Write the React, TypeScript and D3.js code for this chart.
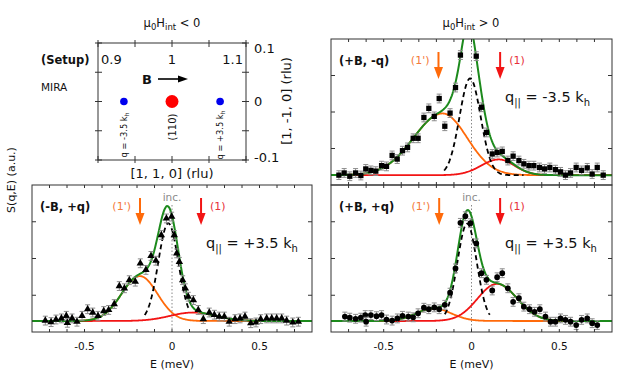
import React from 'react';
import * as d3 from 'd3';

const FONT = 'DejaVu Sans, Verdana, sans-serif';

// ---- measured spectra, E (meV) vs S(q,E) (a.u.) ----
const energyMinusBPlusQ = [-0.724, -0.691, -0.663, -0.632, -0.604, -0.598, -0.571, -0.543, -0.514, -0.482, -0.453, -0.423, -0.39, -0.362, -0.33, -0.301, -0.272, -0.244, -0.21, -0.181, -0.149, -0.12, -0.092, -0.061, -0.032, -0.002, 0.013, 0.027, 0.042, 0.061, 0.076, 0.093, 0.122, 0.15, 0.179, 0.213, 0.242, 0.27, 0.299, 0.327, 0.36, 0.389, 0.417, 0.45, 0.48, 0.507, 0.541, 0.57, 0.598, 0.627, 0.655, 0.69, 0.722];
const intensityMinusBPlusQ = [0.31, 0.27, 0.34, 0.37, 0.44, 0.25, 0.37, 0.28, 0.44, 0.62, 0.53, 0.44, 0.57, 0.6, 0.76, 1.25, 1.19, 1.41, 1.37, 1.87, 1.69, 2.07, 1.94, 2.64, 3.09, 3.14, 2.64, 2.14, 1.91, 1.41, 1.19, 0.96, 0.87, 0.6, 0.35, 0.53, 0.47, 0.42, 0.42, 0.28, 0.35, 0.37, 0.42, 0.24, 0.26, 0.35, 0.37, 0.37, 0.37, 0.37, 0.31, 0.26, 0.28];

const energyPlusBMinusQ = [-0.755, -0.725, -0.693, -0.66, -0.63, -0.602, -0.573, -0.545, -0.512, -0.484, -0.452, -0.423, -0.393, -0.364, -0.332, -0.304, -0.271, -0.243, -0.212, -0.184, -0.152, -0.122, -0.091, -0.063, 0.027, 0.057, 0.085, 0.118, 0.146, 0.175, 0.207, 0.237, 0.27, 0.298, 0.327, 0.355, 0.387, 0.416, 0.446, 0.478, 0.507, 0.535, 0.564, 0.596, 0.627, 0.659, 0.687, 0.716, 0.75];
const intensityPlusBMinusQ = [0.27, 0.33, 0.24, 0.33, 0.26, 0.44, 0.4, 0.38, 0.53, 0.51, 0.81, 0.71, 0.94, 1.03, 1.28, 1.28, 1.85, 2.1, 1.88, 2.37, 1.61, 1.97, 2.67, 3.56, 3.53, 2.13, 1.44, 0.85, 0.89, 0.92, 0.67, 0.79, 0.67, 0.58, 0.53, 0.53, 0.48, 0.44, 0.48, 0.42, 0.36, 0.27, 0.33, 0.48, 0.4, 0.47, 0.3, 0.48, 0.27];

const energyPlusBPlusQ = [-0.721, -0.693, -0.66, -0.63, -0.605, -0.6, -0.573, -0.541, -0.512, -0.484, -0.452, -0.422, -0.393, -0.36, -0.332, -0.304, -0.271, -0.243, -0.212, -0.184, -0.152, -0.122, -0.091, -0.063, -0.035, -0.006, 0.027, 0.057, 0.085, 0.118, 0.146, 0.175, 0.207, 0.237, 0.27, 0.298, 0.33, 0.359, 0.389, 0.421, 0.45, 0.478, 0.507, 0.535, 0.564, 0.596, 0.627, 0.659, 0.687, 0.716];
const intensityPlusBPlusQ = [0.42, 0.39, 0.36, 0.39, 0.46, 0.28, 0.46, 0.43, 0.46, 0.34, 0.31, 0.37, 0.44, 0.42, 0.4, 0.51, 0.66, 0.62, 0.67, 0.62, 0.74, 1.07, 1.73, 2.97, 3.15, 2.96, 2.41, 1.6, 1.42, 1.13, 1.49, 1.6, 1.19, 0.82, 0.92, 0.69, 0.62, 0.55, 0.62, 0.42, 0.28, 0.28, 0.37, 0.33, 0.28, 0.19, 0.33, 0.37, 0.24, 0.19];

// ---- fit parameters, order: (-B,+q), (+B,-q), (+B,+q) ----
const panelTags = ['(-B, +q)', '(+B, -q)', '(+B, +q)'];
const qValues = ['+3.5', '-3.5', '+3.5'];
const errorBars = [0.12, 0.12, 0.12];
const background = [0.3, 0.27, 0.3];
const incCenter = [-0.021, -0.008, -0.025];
const incAmp = [2.66, 2.65, 2.65];
const incWidth = [0.057, 0.06, 0.055];
const incRange = [[-0.16, 0.1], [-0.16, 0.3], [-0.155, 0.105]];
const narrowAmp = [0, 0.5, 0];
const narrowCenter = [0, -0.02, 0];
const narrowWidth = [0.03, 0.03, 0.03];
const mode1pCenter = [-0.183, -0.165, -0.215];
const mode1pAmp = [1.22, 1.69, 0.34];
const mode1pWidth = [[0.105, 0.1], [0.165, 0.14], [0.1, 0.1]];
const mode1Center = [0.12, 0.155, 0.145];
const mode1Amp = [0.23, 0.43, 1.01];
const mode1Width = [[0.13, 0.13], [0.1, 0.09], [0.11, 0.115]];
const arrow1p = [-0.183, -0.188, -0.184];
const arrow1 = [0.166, 0.163, 0.163];
const energyTicks = [-0.5, 0, 0.5];

// ---- setup sketch ----
const setupXTicks = [0.9, 1, 1.1];
const setupYTicks = [0.1, 0, -0.1];
const satellitePos = [0.935, 1.065];
const satelliteQ = ['-3.5', '+3.5'];

const GREEN = '#1c8a1c';
const ORANGE = '#ff6a0a';
const RED = '#f21414';

const peak = (e: number, c: number, a: number, w: number[]) => {
  const s = e < c ? w[0] : w[1];
  return a * Math.exp(-0.5 * ((e - c) / s) ** 2);
};

type PanelProps = {
  i: number; x: number; y: number; w: number; h: number;
  energy: number[]; intensity: number[]; symbol: d3.SymbolType; symSize: number;
  showInc: boolean; showAxis: boolean;
};

function Panel({ i, x, y, w, h, energy, intensity, symbol, symSize, showInc, showAxis }: PanelProps) {
  const xs = d3.scaleLinear().domain([-0.8, 0.8]).range([x, x + w]);
  const ys = d3.scaleLinear().domain([0, 4]).range([y + h, y]);
  const grid = d3.range(-0.8, 0.8001, 0.004);
  const bg = background[i];
  const inc = (e: number) => incAmp[i] * Math.exp(-0.5 * ((e - incCenter[i]) / incWidth[i]) ** 2);
  const narrow = (e: number) => narrowAmp[i] * Math.exp(-0.5 * ((e - narrowCenter[i]) / narrowWidth[i]) ** 2);
  const m1p = (e: number) => peak(e, mode1pCenter[i], mode1pAmp[i], mode1pWidth[i]);
  const m1 = (e: number) => peak(e, mode1Center[i], mode1Amp[i], mode1Width[i]);
  const line = d3.line<number[]>().x(d => xs(d[0])).y(d => ys(d[1]));
  const total = grid.map(e => [e, bg + inc(e) + narrow(e) + m1p(e) + m1(e)]);
  const orange = grid.map(e => [e, bg + m1p(e)]);
  const red = grid.map(e => [e, bg + m1(e)]);
  const dashed = grid.filter(e => e >= incRange[i][0] && e <= incRange[i][1]).map(e => [e, bg + inc(e)]);
  const sym = d3.symbol().type(symbol).size(symSize)()!;
  const clipId = `clip${i}`;
  const err = errorBars[i];
  const x0 = xs(0);
  const minorTicks = xs.ticks(16).filter(t => Math.abs(t) < 0.79);
  const yTicks = [1, 2, 3];
  const armTop = y + 13, armTip = y + 40;

  return (
    <g>
      <defs>
        <clipPath id={clipId}><rect x={x} y={y} width={w} height={h} /></clipPath>
      </defs>
      <line x1={x0} x2={x0} y1={showInc ? y + 20 : y} y2={y + h} stroke="#888" strokeWidth={1} strokeDasharray="1.5,2" />
      {showInc && <text x={x0} y={y + 16} textAnchor="middle" fontSize={10.5} fill="#8a8a8a" fontFamily={FONT}>inc.</text>}
      <g clipPath={`url(#${clipId})`}>
        <path d={line(orange)!} fill="none" stroke={ORANGE} strokeWidth={1.8} />
        <path d={line(red)!} fill="none" stroke={RED} strokeWidth={1.8} />
        <path d={line(total)!} fill="none" stroke={GREEN} strokeWidth={2} />
        <path d={line(dashed)!} fill="none" stroke="#000" strokeWidth={1.8} strokeDasharray="5,3.5" />
        {energy.map((e, k) => {
          const px = xs(e), py = ys(intensity[k]);
          const t = ys(intensity[k] + err), b = ys(intensity[k] - err);
          return (
            <g key={k}>
              <line x1={px} x2={px} y1={t} y2={b} stroke="#8c8c8c" strokeWidth={1} />
              <line x1={px - 2.5} x2={px + 2.5} y1={t} y2={t} stroke="#8c8c8c" strokeWidth={1} />
              <line x1={px - 2.5} x2={px + 2.5} y1={b} y2={b} stroke="#8c8c8c" strokeWidth={1} />
              <path d={sym} transform={`translate(${px},${py})`} fill="#000" />
            </g>
          );
        })}
      </g>
      <rect x={x} y={y} width={w} height={h} fill="none" stroke="#333" strokeWidth={1} />
      {minorTicks.map(t => (
        <g key={t}>
          <line x1={xs(t)} x2={xs(t)} y1={y + h} y2={y + h - 3} stroke="#333" />
          <line x1={xs(t)} x2={xs(t)} y1={y} y2={y + 3} stroke="#333" />
        </g>
      ))}
      {yTicks.map(t => (
        <g key={t}>
          <line x1={x} x2={x + 4} y1={ys(t)} y2={ys(t)} stroke="#333" />
          <line x1={x + w} x2={x + w - 4} y1={ys(t)} y2={ys(t)} stroke="#333" />
        </g>
      ))}
      <text x={x + 8} y={y + 26} fontSize={11.5} fontWeight="bold" fontFamily={FONT} fill="#111">{panelTags[i]}</text>
      <line x1={xs(arrow1p[i])} x2={xs(arrow1p[i])} y1={armTop} y2={armTip - 11} stroke={ORANGE} strokeWidth={2} />
      <path d={`M${xs(arrow1p[i]) - 4.5},${armTip - 12}L${xs(arrow1p[i]) + 4.5},${armTip - 12}L${xs(arrow1p[i])},${armTip}Z`} fill={ORANGE} />
      <text x={xs(arrow1p[i]) - 9} y={y + 25} textAnchor="end" fontSize={11} fill="#f47a3a" fontFamily={FONT}>(1')</text>
      <line x1={xs(arrow1[i])} x2={xs(arrow1[i])} y1={armTop} y2={armTip - 11} stroke={RED} strokeWidth={2} />
      <path d={`M${xs(arrow1[i]) - 4.5},${armTip - 12}L${xs(arrow1[i]) + 4.5},${armTip - 12}L${xs(arrow1[i])},${armTip}Z`} fill={RED} />
      <text x={xs(arrow1[i]) + 9} y={y + 25} fontSize={11} fill="#e8303a" fontFamily={FONT}>(1)</text>
      <text x={x + 174} y={y + 63} fontSize={14.5} fontFamily={FONT} fill="#111">
        q<tspan fontSize={10} dy={4}>||</tspan><tspan dy={-4}> = {qValues[i]} k</tspan><tspan fontSize={10} dy={4}>h</tspan>
      </text>
      {showAxis && energyTicks.map(t => (
        <text key={t} x={xs(t)} y={y + h + 18} textAnchor="middle" fontSize={10.5} fontFamily={FONT} fill="#111">{t}</text>
      ))}
      {showAxis && <text x={xs(0)} y={y + h + 36} textAnchor="middle" fontSize={11} fontFamily={FONT} fill="#111">E (meV)</text>}
    </g>
  );
}

function Setup() {
  const x0 = 98, x1 = 246, y0 = 43, y1 = 160;
  const xs = d3.scaleLinear().domain([0.9, 1.1]).range([x0, x1]);
  const ys = d3.scaleLinear().domain([-0.1, 0.1]).range([y1, y0]);
  const tx = [0.9, 0.95, 1, 1.05, 1.1];
  const ty = [-0.1, -0.05, 0, 0.05, 0.1];
  const anchors = ['start', 'middle', 'end'];
  const labelX = [x0 + 3, xs(1), x1 - 3];
  const labelDy = [5, 0, -3];
  return (
    <g fontFamily={FONT} fill="#111">
      <rect x={x0} y={y0} width={x1 - x0} height={y1 - y0} fill="none" stroke="#333" />
      {tx.map(t => (
        <g key={t}>
          <line x1={xs(t)} x2={xs(t)} y1={y0 - 3} y2={y0 + 4} stroke="#333" />
          <line x1={xs(t)} x2={xs(t)} y1={y1 + 3} y2={y1 - 4} stroke="#333" />
        </g>
      ))}
      {ty.map(t => (
        <g key={t}>
          <line x1={x0 - 3} x2={x0 + 4} y1={ys(t)} y2={ys(t)} stroke="#333" />
          <line x1={x1 + 3} x2={x1 - 4} y1={ys(t)} y2={ys(t)} stroke="#333" />
        </g>
      ))}
      {setupXTicks.map((t, k) => (
        <text key={t} x={labelX[k]} y={64} textAnchor={anchors[k] as any} fontSize={13}>{t}</text>
      ))}
      {setupYTicks.map((t, k) => (
        <text key={t} x={254} y={ys(t) + labelDy[k] + 4.5} fontSize={13}>{t}</text>
      ))}
      <text x={41} y={64} fontSize={11.5} fontWeight="bold">(Setup)</text>
      <text x={41} y={91} fontSize={10.5}>MIRA</text>
      <text x={147} y={84} fontSize={13} fontWeight="bold" textAnchor="middle">B</text>
      <line x1={158} x2={179} y1={79} y2={79} stroke="#000" strokeWidth={1.6} />
      <path d="M178,75.5L188,79L178,82.5Z" fill="#000" />
      <circle cx={xs(1)} cy={ys(0)} r={6.5} fill="#ff0000" />
      {satellitePos.map(p => <circle key={p} cx={xs(p)} cy={ys(0)} r={3.8} fill="#0000ee" />)}
      <text transform={`translate(${xs(1) + 3.5},127) rotate(-90)`} textAnchor="middle" fontSize={10}>(110)</text>
      {satellitePos.map((p, k) => (
        <text key={p} transform={`translate(${xs(p) + 3},135) rotate(-90)`} textAnchor="middle" fontSize={8.3}>
          q = {satelliteQ[k]} k<tspan fontSize={6} dy={2}>h</tspan>
        </text>
      ))}
      <text x={xs(1)} y={177.5} textAnchor="middle" fontSize={13}>[1, 1, 0] (rlu)</text>
      <text transform="translate(291,101) rotate(-90)" textAnchor="middle" fontSize={13}>[1, -1, 0] (rlu)</text>
    </g>
  );
}

export default function App() {
  return (
    <svg width={623} height={374} style={{ position: 'absolute', left: 0, top: 0, background: '#fff' }}>
      <Setup />
      <text x={172} y={27} textAnchor="middle" fontSize={11.5} fontFamily={FONT} fill="#111">
        μ<tspan fontSize={8.5} dy={3}>0</tspan><tspan dy={-3}>H</tspan><tspan fontSize={8.5} dy={3}>int</tspan><tspan dy={-3}> &lt; 0</tspan>
      </text>
      <text x={471} y={27} textAnchor="middle" fontSize={11.5} fontFamily={FONT} fill="#111">
        μ<tspan fontSize={8.5} dy={3}>0</tspan><tspan dy={-3}>H</tspan><tspan fontSize={8.5} dy={3}>int</tspan><tspan dy={-3}> &gt; 0</tspan>
      </text>
      <text transform="translate(15,180) rotate(-90)" textAnchor="middle" fontSize={11} fontFamily={FONT} fill="#111">S(q,E) (a.u.)</text>
      <Panel i={0} x={32} y={185} w={280} h={147} energy={energyMinusBPlusQ} intensity={intensityMinusBPlusQ}
        symbol={d3.symbolTriangle} symSize={24} showInc={true} showAxis={true} />
      <Panel i={1} x={331} y={39} w={281} h={146} energy={energyPlusBMinusQ} intensity={intensityPlusBMinusQ}
        symbol={d3.symbolSquare} symSize={28} showInc={false} showAxis={false} />
      <Panel i={2} x={331} y={185} w={281} h={147} energy={energyPlusBPlusQ} intensity={intensityPlusBPlusQ}
        symbol={d3.symbolCircle} symSize={26} showInc={true} showAxis={true} />
    </svg>
  );
}
